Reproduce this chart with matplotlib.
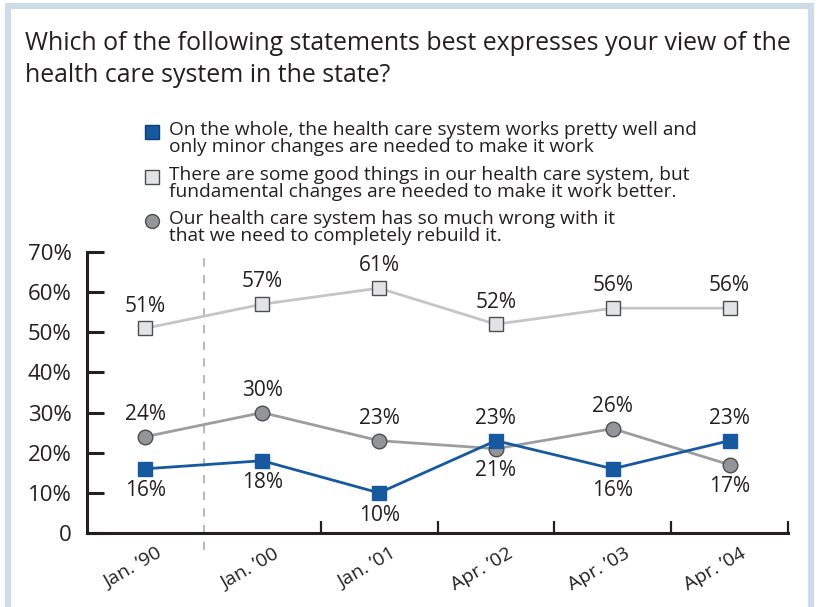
import matplotlib.pyplot as plt
from matplotlib.lines import Line2D
from matplotlib.patches import Rectangle

plt.rcParams['font.family'] = ['Open Sans', 'DejaVu Sans']

# survey waves and the share choosing each statement (%)
waves = ["Jan. \u201990", "Jan. \u201900", "Jan. \u201901", "Apr. \u201902", "Apr. \u201903", "Apr. \u201904"]
minor_changes = [16, 18, 10, 23, 16, 23]
fundamental_changes = [51, 57, 61, 52, 56, 56]
rebuild = [24, 30, 23, 21, 26, 17]

minor_label = ["On the whole, the health care system works pretty well and",
               "only minor changes are needed to make it work"]
fundamental_label = ["There are some good things in our health care system, but",
                     "fundamental changes are needed to make it work better."]
rebuild_label = ["Our health care system has so much wrong with it",
                 "that we need to completely rebuild it."]

yticks = [0, 10, 20, 30, 40, 50, 60, 70]

blue = "#17599f"
light = "#e2e3e4"
light_line = "#c4c5c7"
grey = "#939598"
grey_line = "#9c9d9f"
edge = "#4d4d4f"
ink = "#231f20"

fig = plt.figure(figsize=(8.17, 6.07), dpi=100)
W, H = 817, 607

def fx(px):
    return px / W

def fy(py):
    return 1 - py / H

# light blue frame
fig.add_artist(Rectangle((fx(8), fy(640)), fx(803), fy(6) - fy(640), transform=fig.transFigure,
                         fill=False, edgecolor="#cfdce8", linewidth=4.5))

fig.text(fx(25), fy(44), "Which of the following statements best expresses your view of the",
         fontsize=17.9, color=ink, va="center")
fig.text(fx(25), fy(75), "health care system in the state?", fontsize=17.9, color=ink, va="center")

# legend drawn by hand so the markers sit on the first line of each entry
entries = [(minor_label, 130, "s", blue, "#0d3f73"),
           (fundamental_label, 175, "s", light, edge),
           (rebuild_label, 219, "o", grey, edge)]
for lines, y0, mk, fc, ec in entries:
    fig.add_artist(Line2D([fx(152)], [fy(y0 + 2)], marker=mk, markersize=10 if mk == "o" else 10.5,
                          markerfacecolor=fc, markeredgecolor=ec, markeredgewidth=1,
                          transform=fig.transFigure))
    for k, line in enumerate(lines):
        fig.text(fx(169), fy(y0 + 17 * k), line, fontsize=13.8, color=ink, va="center")

ax = fig.add_axes([fx(87), fy(533), fx(788) - fx(87), fy(252) - fy(533)])
x = list(range(len(waves)))

ax.axvline(0.5, ymin=-0.06, ymax=1.0, color="#b9babc", linestyle=(0, (4, 4)), linewidth=1.5,
           clip_on=False)

ax.plot(x, fundamental_changes, color=light_line, linewidth=2, marker="s", markersize=10.5,
        markerfacecolor=light, markeredgecolor=edge, markeredgewidth=1, zorder=3)
ax.plot(x, rebuild, color=grey_line, linewidth=2, marker="o", markersize=10.5,
        markerfacecolor=grey, markeredgecolor=edge, markeredgewidth=1, zorder=4)
ax.plot(x, minor_changes, color=blue, linewidth=2, marker="s", markersize=10.5,
        markerfacecolor=blue, markeredgecolor=blue, zorder=5)

def label(xi, yi, above):
    ax.annotate(f"{yi}%", (xi, yi), xytext=(0, 16 if above else -16), textcoords="offset points",
                ha="center", va="center", fontsize=15, color=ink)

for i, v in enumerate(fundamental_changes):
    label(i, v, True)
for i, v in enumerate(rebuild):
    label(i, v, i not in (3, 5))
for i, v in enumerate(minor_changes):
    label(i, v, i in (3, 5))

ax.set_xlim(-0.5, 5.5)
ax.set_ylim(0, 70)
ax.set_yticks(yticks)
ax.set_yticklabels([f"{t}%" if t else "0" for t in yticks])
ax.tick_params(axis="y", direction="in", length=12, width=2.2, color=ink, labelsize=16,
               labelcolor=ink, pad=11)
ax.set_xticks([1.5, 2.5, 3.5, 4.5, 5.5])
ax.set_xticklabels([])
ax.tick_params(axis="x", direction="in", length=9, width=1.6, color=ink)

for i, w in enumerate(waves):
    ax.annotate(w, (i, 0), xytext=(11, -14), textcoords="offset points", rotation=30,
                rotation_mode="anchor", ha="right", va="center", fontsize=14, color=ink,
                annotation_clip=False)

for s in ("top", "right"):
    ax.spines[s].set_visible(False)
ax.spines["left"].set_linewidth(2.2)
ax.spines["bottom"].set_linewidth(2.2)
ax.spines["left"].set_color(ink)
ax.spines["bottom"].set_color(ink)

fig.savefig("out.png", dpi=100)
